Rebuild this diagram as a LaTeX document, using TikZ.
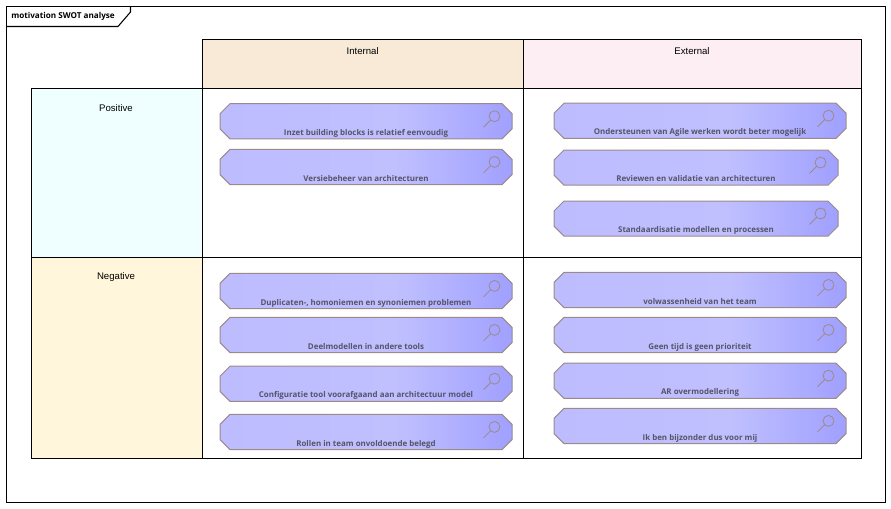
\documentclass[tikz,border=0pt]{standalone}
\usepackage{fontspec}
\setmainfont{Liberation Sans}
\newfontfamily\itemfont{Open Sans}
\definecolor{itemedge}{HTML}{9C8A8A}
\definecolor{itemtext}{HTML}{565468}
\definecolor{itemleft}{HTML}{BCBCFF}
\definecolor{itemmid}{HTML}{C0C0FF}
\definecolor{itemright}{HTML}{A0A0FF}
\definecolor{internalfill}{HTML}{F8EAD6}
\definecolor{externalfill}{HTML}{FDEEF3}
\definecolor{positivefill}{HTML}{EFFFFF}
\definecolor{negativefill}{HTML}{FFF6DC}
\pgfdeclarehorizontalshading{itemshade}{100bp}{
	color(0bp)=(itemleft); color(25bp)=(itemleft); color(55bp)=(itemmid);
	color(75bp)=(itemright); color(100bp)=(itemright)}
\makeatletter
\pgfdeclareshape{octabox}{
	\inheritsavedanchors[from=rectangle]
	\inheritanchorborder[from=rectangle]
	\inheritanchor[from=rectangle]{center}
	\inheritanchor[from=rectangle]{north}
	\inheritanchor[from=rectangle]{south}
	\inheritanchor[from=rectangle]{east}
	\inheritanchor[from=rectangle]{west}
	\backgroundpath{
		\southwest \pgf@xa=\pgf@x \pgf@ya=\pgf@y
		\northeast \pgf@xb=\pgf@x \pgf@yb=\pgf@y
		\pgf@xc=\pgf@xa \advance\pgf@xc by 7.5pt
		\pgf@yc=\pgf@ya \advance\pgf@yc by 7.5pt
		\pgfutil@tempdima=\pgf@xb \advance\pgfutil@tempdima by -7.5pt
		\pgfutil@tempdimb=\pgf@yb \advance\pgfutil@tempdimb by -7.5pt
		\pgfpathmoveto{\pgfqpoint{\pgf@xc}{\pgf@ya}}
		\pgfpathlineto{\pgfqpoint{\pgfutil@tempdima}{\pgf@ya}}
		\pgfpathlineto{\pgfqpoint{\pgf@xb}{\pgf@yc}}
		\pgfpathlineto{\pgfqpoint{\pgf@xb}{\pgfutil@tempdimb}}
		\pgfpathlineto{\pgfqpoint{\pgfutil@tempdima}{\pgf@yb}}
		\pgfpathlineto{\pgfqpoint{\pgf@xc}{\pgf@yb}}
		\pgfpathlineto{\pgfqpoint{\pgf@xa}{\pgfutil@tempdimb}}
		\pgfpathlineto{\pgfqpoint{\pgf@xa}{\pgf@yc}}
		\pgfpathclose
	}
}
\makeatother
\tikzset{
	cell/.style={draw=black, line width=.9pt},
	headtext/.style={font=\fontsize{7.2}{9}\selectfont, inner sep=0pt},
	item/.style={
		octabox,
		shading=itemshade,
		draw=itemedge, line width=.75pt,
		inner sep=0pt, outer sep=0pt,
		minimum height=26.4pt,
		label={[itemlabel, yshift=7.8pt]south:{#1}},
		path picture={
			\draw[itemedge, line width=.6pt]
				([shift={(-17.5,12.5)}]path picture bounding box.north east) circle (4.1pt)
				([shift={(-21.5,16.5)}]path picture bounding box.north east)
				-- ([shift={(-28.5,23.5)}]path picture bounding box.north east);}},
	itemlabel/.style={
		font=\itemfont\bfseries\fontsize{5.95}{8}\selectfont,
		text=itemtext, inner sep=0pt,
		text height=5pt, text depth=0pt},
	wideitem/.style={item={#1}, minimum width=219pt},
	shortitem/.style={item={#1}, minimum width=213pt},
}
\begin{document}
\begin{tikzpicture}[x=.75pt, y=-.75pt]
	\useasboundingbox (0,0) rectangle (891,508);
	% frame and its tab
	\draw[line width=.8pt] (6.5,6.5) rectangle (885.5,502.5);
	\draw[line width=.8pt] (6.5,26.5) -- (118,26.5) -- (130.5,12) -- (130.5,6.5);
	\node[font=\fontsize{6.1}{8}\selectfont\itemfont\bfseries, anchor=west, inner sep=0pt] (title) at (11,16) {motivation SWOT analyse};
	% table
	\draw[cell, fill=internalfill] (202.5,39.5) rectangle (523.5,88.5);
	\draw[cell, fill=externalfill] (523.5,39.5) rectangle (861.5,88.5);
	\draw[cell, fill=positivefill] (31.5,88.5) rectangle (202.5,257.5);
	\draw[cell, fill=negativefill] (31.5,257.5) rectangle (202.5,458.5);
	\draw[cell] (202.5,88.5) rectangle (523.5,257.5);
	\draw[cell] (523.5,88.5) rectangle (861.5,257.5);
	\draw[cell] (202.5,257.5) rectangle (523.5,458.5);
	\draw[cell] (523.5,257.5) rectangle (861.5,458.5);
	\node[headtext] (internal) at (362.7,50.8) {Internal};
	\node[headtext] (external) at (692,50.8) {External};
	\node[headtext] (positive) at (116,107.8) {Positive};
	\node[headtext] (negative) at (116,276.8) {Negative};
	% internal, positive
	\node[wideitem={Inzet building blocks is relatief eenvoudig}] (inzet) at (366,121.3) {};
	\node[wideitem={Versiebeheer van architecturen}] (versie) at (366,167) {};
	% external, positive
	\node[wideitem={Ondersteunen van Agile werken wordt beter mogelijk}] (agile) at (700,120.8) {};
	\node[shortitem={Reviewen en validatie van architecturen}] (review) at (696,167.6) {};
	\node[shortitem={Standaardisatie modellen en processen}] (standaard) at (696,218.6) {};
	% internal, negative
	\node[wideitem={Duplicaten-, homoniemen en synoniemen problemen}] (duplicaten) at (366,291) {};
	\node[wideitem={Deelmodellen in andere tools}] (deel) at (366,335) {};
	\node[wideitem={Configuratie tool voorafgaand aan architectuur model}] (config) at (366,383.8) {};
	\node[wideitem={Rollen in team onvoldoende belegd}] (rollen) at (366,432) {};
	% external, negative
	\node[wideitem={volwassenheid van het team}] (team) at (700,290) {};
	\node[wideitem={Geen tijd is geen prioriteit}] (tijd) at (700,335) {};
	\node[wideitem={AR overmodellering}] (overmodel) at (700,380.8) {};
	\node[wideitem={Ik ben bijzonder dus voor mij}] (bijzonder) at (700,426) {};
\end{tikzpicture}
\end{document}
